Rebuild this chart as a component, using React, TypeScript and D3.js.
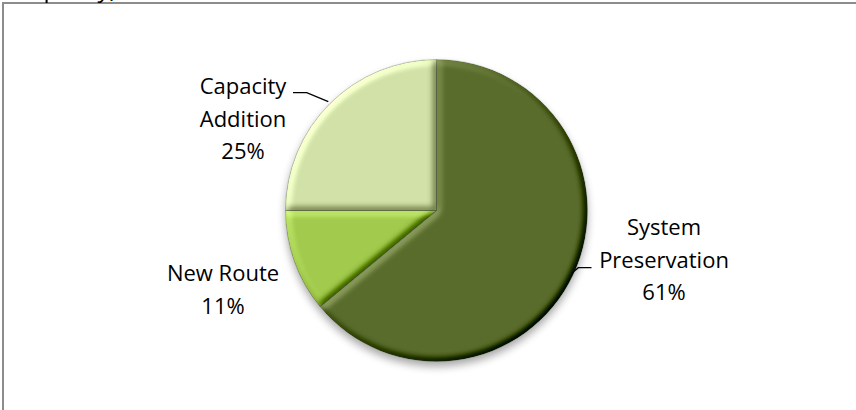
import { useEffect, useRef } from 'react';
import * as d3 from 'd3';

const categories = ['System Preservation', 'New Route', 'Capacity Addition'];
// slice shares
const shares = [64, 11, 25];
// percentage text as printed on the chart
const pctLabels = ['61%', '11%', '25%'];
const labelLines = [['System', 'Preservation'], ['New Route'], ['Capacity', 'Addition']];
const colors = ['#5a6c2c', '#a2ca4c', '#d1e1a8'];

const WIDTH = 856;
const HEIGHT = 410;
const CX = 436.5;
const CY = 210.5;
const R = 151;
const FONT = '"Open Sans", "Noto Sans", sans-serif';
const LINE_H = 32.5;

// label block: center x and first baseline, relative to pie center
const labelOffsets: [number, number][] = [
  [227.5, 24.5],
  [-213.5, 70.5],
  [-193.5, -116.5],
];
// leader polylines relative to pie center
const leaders: ([number, number][] | null)[] = [
  [[155, 57.2], [141.8, 57.2], [135.2, 62.8]],
  null,
  [[-143.5, -117.8], [-129.8, -117.8], [-108.2, -108.8]],
];

export default function App() {
  const svgRef = useRef<SVGSVGElement>(null);

  useEffect(() => {
    if (!svgRef.current) return;
    const svg = d3.select(svgRef.current);
    svg.selectAll('*').remove();

    const defs = svg.append('defs');

    const shadow = defs.append('filter').attr('id', 'pieShadow').attr('x', '-20%').attr('y', '-20%').attr('width', '140%').attr('height', '140%');
    shadow.append('feGaussianBlur').attr('stdDeviation', 4);

    // soft-round bevel: light from the top-left
    const bevel = defs
      .append('filter')
      .attr('id', 'bevel')
      .attr('x', '-10%')
      .attr('y', '-10%')
      .attr('width', '120%')
      .attr('height', '120%')
      .attr('color-interpolation-filters', 'sRGB');
    bevel.append('feGaussianBlur').attr('in', 'SourceAlpha').attr('stdDeviation', 3.5).attr('result', 'blur');
    bevel
      .append('feDiffuseLighting')
      .attr('in', 'blur')
      .attr('surfaceScale', 4)
      .attr('diffuseConstant', 1)
      .attr('lighting-color', '#ffffff')
      .attr('result', 'light')
      .append('feDistantLight')
      .attr('azimuth', 225)
      .attr('elevation', 45);
    const el = (45 * Math.PI) / 180;
    const k3 = 0.6;
    bevel
      .append('feComposite')
      .attr('in', 'SourceGraphic')
      .attr('in2', 'light')
      .attr('operator', 'arithmetic')
      .attr('k1', 0)
      .attr('k2', 1)
      .attr('k3', k3)
      .attr('k4', -k3 * Math.sin(el))
      .attr('result', 'lit');
    bevel.append('feComposite').attr('in', 'lit').attr('in2', 'SourceAlpha').attr('operator', 'in');

    // frame (cropped: only top and left edges visible)
    svg
      .append('path')
      .attr('d', `M3,${HEIGHT} V3 H${WIDTH}`)
      .attr('fill', 'none')
      .attr('stroke', '#8c8c8c')
      .attr('stroke-width', 2);

    // title cut off above the frame
    svg
      .append('text')
      .attr('x', 15)
      .attr('y', -3)
      .attr('font-family', FONT)
      .attr('font-size', 24)
      .attr('fill', '#000')
      .text('Capacity)');

    const pie = d3
      .pie<number>()
      .sort(null)
      .startAngle(0)
      .endAngle(2 * Math.PI)
      .value((d) => d);
    const arcs = pie(shares);
    const arc = d3.arc<d3.PieArcDatum<number>>().innerRadius(0).outerRadius(R);

    const g = svg.append('g').attr('transform', `translate(${CX},${CY})`);

    g.append('circle')
      .attr('cx', 0)
      .attr('cy', 5)
      .attr('r', R)
      .attr('fill', '#000')
      .attr('opacity', 0.35)
      .attr('filter', 'url(#pieShadow)');

    g.selectAll('path.slice')
      .data(arcs)
      .enter()
      .append('path')
      .attr('class', 'slice')
      .attr('d', arc)
      .attr('fill', (_, i) => colors[i])
      .attr('filter', 'url(#bevel)')
      .append('title')
      .text((_, i) => `${categories[i]}: ${pctLabels[i]}`);

    g.selectAll('path.edge')
      .data(arcs)
      .enter()
      .append('path')
      .attr('class', 'edge')
      .attr('d', arc)
      .attr('fill', 'none')
      .attr('stroke', '#3d4a1c')
      .attr('stroke-opacity', 0.3)
      .attr('stroke-width', 0.8);

    const line = d3.line<[number, number]>();
    leaders.forEach((pts) => {
      if (!pts) return;
      g.append('path').attr('d', line(pts)).attr('fill', 'none').attr('stroke', '#000').attr('stroke-width', 1.3);
    });

    labelLines.forEach((lines, i) => {
      const [dx, dy] = labelOffsets[i];
      const t = g
        .append('text')
        .attr('x', dx)
        .attr('y', dy)
        .attr('text-anchor', 'middle')
        .attr('font-family', FONT)
        .attr('font-size', 22)
        .attr('fill', '#000');
      [...lines, pctLabels[i]].forEach((s, j) => {
        t.append('tspan').attr('x', dx).attr('y', dy + j * LINE_H).text(s);
      });
    });
  }, []);

  return (
    <svg
      ref={svgRef}
      width={WIDTH}
      height={HEIGHT}
      style={{ position: 'absolute', left: 0, top: 0, background: '#fff' }}
    />
  );
}
